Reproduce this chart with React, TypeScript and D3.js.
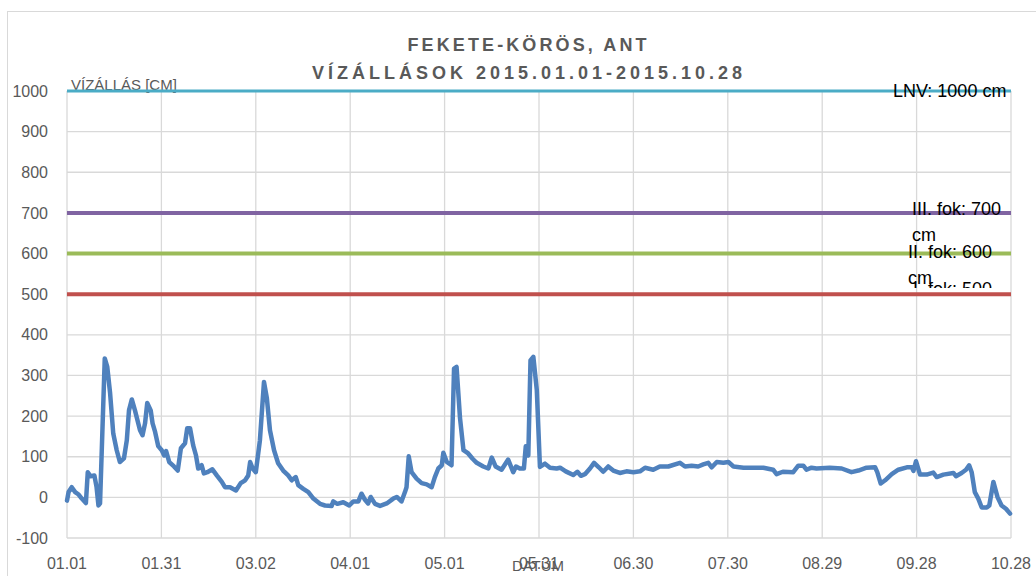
import * as React from 'react';
import * as d3 from 'd3';

// chart size, fixed to the screenshot
const width = 1036;
const height = 576;

// days since 2015.01.01 and the water level (cm)
const days = [
  0, 0.5, 1.5, 2.6, 3.7, 4.7, 6, 6.6, 7.5, 8.7, 9.4, 10, 10.5, 12, 12.8, 13.7, 14.7, 15.8, 16.8, 18.1,
  19, 19.7, 20.6, 21.6, 23.2, 24, 24.8, 25.5, 26.6, 27.2, 28, 29, 30.1, 30.9, 31.5, 32.5, 34, 35.2, 36.2, 37.5,
  38.2, 39.1, 40.1, 41, 41.7, 42.8, 43.5, 44.6, 46.2, 47.6, 49.2, 50.2, 51.8, 53.7, 55.2, 56.6, 57.6, 58.2, 59, 60,
  61.3, 62.6, 63.5, 64.5, 65.8, 67.1, 68.7, 70.3, 71.4, 72.7, 73.5, 75.1, 76.7, 78.3, 80.4, 82, 84.1, 84.6, 85.9, 87.8,
  89.7, 91, 92.6, 93.6, 94.7, 95.7, 96.5, 97.9, 99.5, 101.6, 103.7, 104.8, 106.3, 107.4, 107.9, 108.6, 109.5, 111.1, 112.7, 114.3,
  115.9, 116.9, 118, 119.1, 119.6, 120.7, 122.2, 123, 123.8, 124.9, 126, 127.5, 128.9, 130.2, 132.3, 133.9, 135, 136.2, 138.1, 140.2,
  141.8, 142.7, 143.9, 145.2, 145.8, 146.6, 147.3, 148.2, 149.3, 150.3, 151.9, 153.5, 155.6, 156.7, 158.5, 160.9, 162.2, 163.3, 164.6, 166.2,
  167.5, 169, 170.4, 172, 173.6, 175.7, 177.8, 180, 182.1, 183.7, 186.3, 188.4, 191.1, 194.8, 196.4, 198.5, 200.6, 202.2, 203.8, 204.9,
  206.5, 208.6, 210.2, 211.8, 215, 217.5, 221.3, 224.4, 225.5, 227.5, 230.8, 232.4, 234, 235, 236.6, 238.2, 242.4, 246.2, 249.3, 251.5,
  254.1, 256.8, 257.5, 258.6, 260, 262.1, 264.2, 266.9, 268.5, 269, 269.8, 271.1, 273.2, 275.3, 276.4, 278.5, 281.7, 282.5, 284.3, 285.7,
  286.7, 287.5, 288.5, 289.6, 290.7, 292.3, 293.1, 294.4, 295.7, 297, 298.4, 299.7,
];
const levels = [
  -8, 13, 25, 13, 7, -3, -14, 62, 52, 54, 25, -20, -15, 342, 321, 256, 157, 116, 87, 96,
  140, 214, 241, 214, 165, 153, 182, 232, 214, 182, 161, 126, 116, 103, 114, 87, 76, 66, 121, 133,
  170, 170, 128, 103, 71, 79, 59, 62, 69, 54, 38, 25, 25, 17, 35, 42, 54, 87, 71, 62,
  140, 284, 245, 165, 116, 84, 66, 54, 42, 50, 30, 21, 13, -3, -16, -20, -21, -10, -16, -12,
  -20, -10, -10, 9, -6, -15, 1, -16, -21, -15, -3, 1, -10, 13, 25, 101, 62, 46, 35, 32,
  25, 50, 71, 79, 110, 87, 79, 317, 321, 195, 116, 108, 95, 85, 76, 71, 98, 76, 68, 93,
  62, 76, 71, 71, 126, 103, 337, 346, 264, 75, 83, 73, 71, 73, 64, 55, 63, 53, 57, 71,
  85, 74, 63, 76, 66, 60, 64, 62, 64, 73, 68, 76, 76, 85, 76, 78, 76, 81, 85, 74,
  87, 85, 87, 76, 73, 73, 73, 68, 57, 63, 62, 78, 78, 68, 73, 71, 73, 71, 62, 66,
  73, 74, 62, 34, 42, 57, 68, 74, 74, 65, 89, 56, 56, 61, 50, 56, 60, 52, 60, 68,
  79, 62, 13, -3, -25, -25, -20, 38, 1, -20, -28, -40,
];

// x axis: one label every 30 days
const tickDays = [0, 30, 60, 90, 120, 150, 180, 210, 240, 270, 300];
const tickLabels = ['01.01', '01.31', '03.02', '04.01', '05.01', '05.31', '06.30', '07.30', '08.29', '09.28', '10.28'];
const yTicks = [-100, 0, 100, 200, 300, 400, 500, 600, 700, 800, 900, 1000];

// flood warning levels
const limitValues = [1000, 700, 600, 500];
const limitLabels = [['LNV: 1000 cm'], ['III. fok: 700', 'cm'], ['II. fok: 600', 'cm'], ['I. fok: 500']];
const limitColors = ['#4bacc6', '#8064a2', '#9bbb59', '#c0504d'];

const grey = '#595959';
const font = '"Liberation Sans", Arial, sans-serif';

const App = () => {
  const x = d3.scaleLinear().domain([0, 300]).range([67, 1011]);
  const y = d3.scaleLinear().domain([-100, 1000]).range([538, 91]);

  const points: Array<[number, number]> = days.map((d, i) => [d, levels[i]]);
  const dataLine = d3.line<[number, number]>()
    .x(d => x(d[0]))
    .y(d => y(d[1]));

  // label offsets next to each level line (excel data labels)
  const labelX = [893, 912, 908, 913];
  const labelDy = [0, -4, -2, -5];

  return (
    <svg
      width={width}
      height={height}
      style={{ position: 'absolute', left: 0, top: 0, background: '#fff' }}
      fontFamily={font}
    >
      <defs>
        <clipPath id="lowest-label">
          <rect x={850} y={270} width={186} height={18} />
        </clipPath>
      </defs>

      {/* chart border */}
      <rect x={7.5} y={11.5} width={1100} height={700} fill="none" stroke="#d9d9d9" />

      {/* title */}
      <text x={527} y={51} textAnchor="middle" fontSize={18} fontWeight="bold" fill={grey}
        textLength={239} lengthAdjust="spacing">
        FEKETE-KÖRÖS, ANT
      </text>
      <text x={527} y={79} textAnchor="middle" fontSize={18} fontWeight="bold" fill={grey}
        textLength={430} lengthAdjust="spacing">
        VÍZÁLLÁSOK 2015.01.01-2015.10.28
      </text>

      {/* horizontal gridlines */}
      {yTicks.map(t => (
        <line key={`h${t}`} x1={x(0)} x2={x(300)} y1={y(t)} y2={y(t)} stroke="#d9d9d9" strokeWidth={1.3} />
      ))}
      {/* vertical gridlines */}
      {tickDays.map(t => (
        <line key={`v${t}`} x1={x(t)} x2={x(t)} y1={y(1000)} y2={y(-100)} stroke="#d9d9d9" strokeWidth={1.3} />
      ))}

      {/* y tick labels */}
      {yTicks.map(t => (
        <text key={`yl${t}`} x={48} y={y(t)} dy="0.35em" textAnchor="end" fontSize={16} fill={grey}>
          {t}
        </text>
      ))}

      {/* x tick labels */}
      {tickDays.map((t, i) => (
        <text key={`xl${t}`} x={x(t)} y={569} textAnchor="middle" fontSize={16} fill={grey}>
          {tickLabels[i]}
        </text>
      ))}

      {/* axis titles */}
      <text x={538} y={571} textAnchor="middle" fontSize={15} fill={grey}>DATUM</text>
      <text x={71} y={90} fontSize={15} fill={grey}>VÍZÁLLÁS [CM]</text>

      {/* level lines */}
      {limitValues.map((v, i) => (
        <line key={`lim${v}`} x1={x(0)} x2={x(300)} y1={y(v)} y2={y(v)}
          stroke={limitColors[i]} strokeWidth={i === 0 ? 3 : 4} />
      ))}

      {/* water level series */}
      <path d={dataLine(points) || ''} fill="none" stroke="#4f81bd" strokeWidth={4.5}
        strokeLinejoin="round" strokeLinecap="round" />

      {/* level labels */}
      {limitValues.map((v, i) => (
        <text key={`ll${v}`} x={labelX[i]} y={y(v) + labelDy[i]} fontSize={18} fill="#000"
          clipPath={i === 3 ? 'url(#lowest-label)' : undefined}>
          {limitLabels[i].map((s, j) => (
            <tspan key={s} x={labelX[i]} dy={j === 0 ? '0.35em' : '1.45em'}>{s}</tspan>
          ))}
        </text>
      ))}
    </svg>
  );
};

export default App;
